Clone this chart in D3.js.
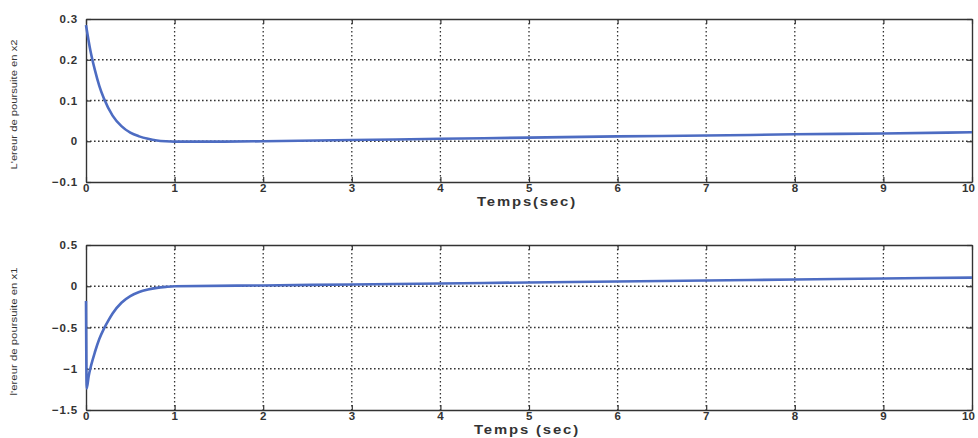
<!DOCTYPE html>
<html>
<head>
<meta charset="utf-8">
<script src="https://cdn.jsdelivr.net/npm/d3@7"></script>
<style>
  html, body { margin: 0; padding: 0; background: #fff; }
  svg { display: block; }
  .tick text { font-family: "Liberation Sans", Arial, sans-serif; font-weight: bold; font-size: 11.5px; fill: #333; letter-spacing: 0.8px; }
  .xlabel { font-family: "Liberation Sans", Arial, sans-serif; font-weight: bold; font-size: 12px; fill: #333; letter-spacing: 1.5px; }
  .ylabel { font-family: "Liberation Sans Narrow", "Liberation Sans", Arial, sans-serif; font-size: 9px; fill: #333; }
</style>
</head>
<body>
<svg id="chart" width="978" height="438"></svg>
<script>
// Tracking error in x2 (upper panel)
const timeX2 = [0, 0.05, 0.1, 0.15, 0.2, 0.3, 0.4, 0.5, 0.6, 0.7, 0.8, 0.9, 1.0, 1.5, 2, 3, 4, 5, 6, 7, 8, 9, 10];
const errX2  = [0.285, 0.222, 0.175, 0.136, 0.106, 0.063, 0.037, 0.021, 0.012, 0.006, 0.002, 0.0, -0.001, -0.001, 0.0, 0.003, 0.006, 0.009, 0.012, 0.014, 0.017, 0.019, 0.022];

// Tracking error in x1 (lower panel)
const timeX1 = [0, 0.008, 0.03, 0.06, 0.1, 0.15, 0.2, 0.25, 0.3, 0.4, 0.5, 0.6, 0.7, 0.8, 0.9, 1.0, 2, 3, 4, 5, 6, 7, 8, 9, 10];
const errX1  = [-0.18, -1.24, -1.09, -0.95, -0.80, -0.64, -0.52, -0.42, -0.33, -0.20, -0.12, -0.07, -0.04, -0.02, -0.008, 0.0, 0.01, 0.022, 0.034, 0.046, 0.058, 0.07, 0.082, 0.094, 0.105];

const xTicks = [0, 1, 2, 3, 4, 5, 6, 7, 8, 9, 10];
const yTicksX2 = [-0.1, 0, 0.1, 0.2, 0.3];
const yTicksX1 = [-1.5, -1, -0.5, 0, 0.5];

const panels = [
  { t: timeX2, v: errX2, yDomain: [-0.1, 0.3], yTicks: yTicksX2, top: 19, bottom: 182,
    ylab: "L'ereur de poursuite en x2", ylabLen: 130, xlab: "Temps(sec)", xlabLen: 100,
    fmt: d => d === 0 ? "0" : d3.format(".1f")(d).replace("-", "\u2212") },
  { t: timeX1, v: errX1, yDomain: [-1.5, 0.5], yTicks: yTicksX1, top: 245, bottom: 410,
    ylab: "l'ereur de poursuite en x1", ylabLen: 128, xlab: "Temps (sec)", xlabLen: 106,
    fmt: d => String(d).replace("-", "\u2212") }
];

const left = 86, right = 972;
const svg = d3.select("#chart");

panels.forEach(p => {
  const x = d3.scaleLinear().domain([0, 10]).range([left, right]);
  const y = d3.scaleLinear().domain(p.yDomain).range([p.bottom, p.top]);
  const g = svg.append("g");

  // dotted grid
  g.append("g").selectAll("line").data(xTicks.slice(1, -1)).join("line")
    .attr("x1", d => x(d)).attr("x2", d => x(d)).attr("y1", p.top).attr("y2", p.bottom)
    .attr("stroke", "#333").attr("stroke-width", 1.3).attr("stroke-dasharray", "1.6,2.4");
  g.append("g").selectAll("line").data(p.yTicks.slice(1, -1)).join("line")
    .attr("x1", left).attr("x2", right).attr("y1", d => y(d)).attr("y2", d => y(d))
    .attr("stroke", "#333").attr("stroke-width", 1.3).attr("stroke-dasharray", "1.6,2.4");

  // axes with inward ticks on all four sides
  const xAxis = d3.axisBottom(x).tickValues(xTicks).tickSizeInner(-5).tickSizeOuter(0).tickPadding(2);
  const gx = g.append("g").attr("transform", `translate(0,${p.bottom})`).call(xAxis);
  const yAxis = d3.axisLeft(y).tickValues(p.yTicks).tickFormat(p.fmt).tickSizeInner(-5).tickSizeOuter(0).tickPadding(8);
  const gy = g.append("g").attr("transform", `translate(${left},0)`).call(yAxis);
  const yAxisR = d3.axisRight(y).tickValues(p.yTicks).tickFormat("").tickSizeInner(-5).tickSizeOuter(0);
  const gyr = g.append("g").attr("transform", `translate(${right},0)`).call(yAxisR);
  const xAxisT = d3.axisTop(x).tickValues(xTicks).tickFormat("").tickSizeInner(-5).tickSizeOuter(0);
  const gxt = g.append("g").attr("transform", `translate(0,${p.top})`).call(xAxisT);
  [gx, gy, gyr, gxt].forEach(a => {
    a.select(".domain").attr("stroke", "#333").attr("stroke-width", 1.4);
    a.selectAll(".tick line").attr("stroke", "#333").attr("stroke-width", 1.2);
  });
  // keep the last tick label inside the page edge
  gx.selectAll(".tick text").filter(d => d === 10).attr("dx", -4).style("letter-spacing", "0px");

  // data line
  const pts = p.t.map((t, i) => [t, p.v[i]]);
  g.append("path").datum(pts)
    .attr("fill", "none").attr("stroke", "#4d6cc2").attr("stroke-width", 2.6)
    .attr("stroke-linejoin", "round")
    .attr("d", d3.line().x(d => x(d[0])).y(d => y(d[1])).curve(d3.curveMonotoneX));

  // labels
  g.append("text").attr("class", "xlabel").attr("x", 527).attr("y", p.bottom + 24)
    .attr("text-anchor", "middle")
    .attr("textLength", p.xlabLen).attr("lengthAdjust", "spacingAndGlyphs").text(p.xlab);
  g.append("text").attr("class", "ylabel")
    .attr("transform", `translate(17,${(p.top + p.bottom) / 2 + 4}) rotate(-90)`)
    .attr("text-anchor", "middle")
    .attr("textLength", p.ylabLen).attr("lengthAdjust", "spacingAndGlyphs").text(p.ylab);
});
</script>
</body>
</html>
